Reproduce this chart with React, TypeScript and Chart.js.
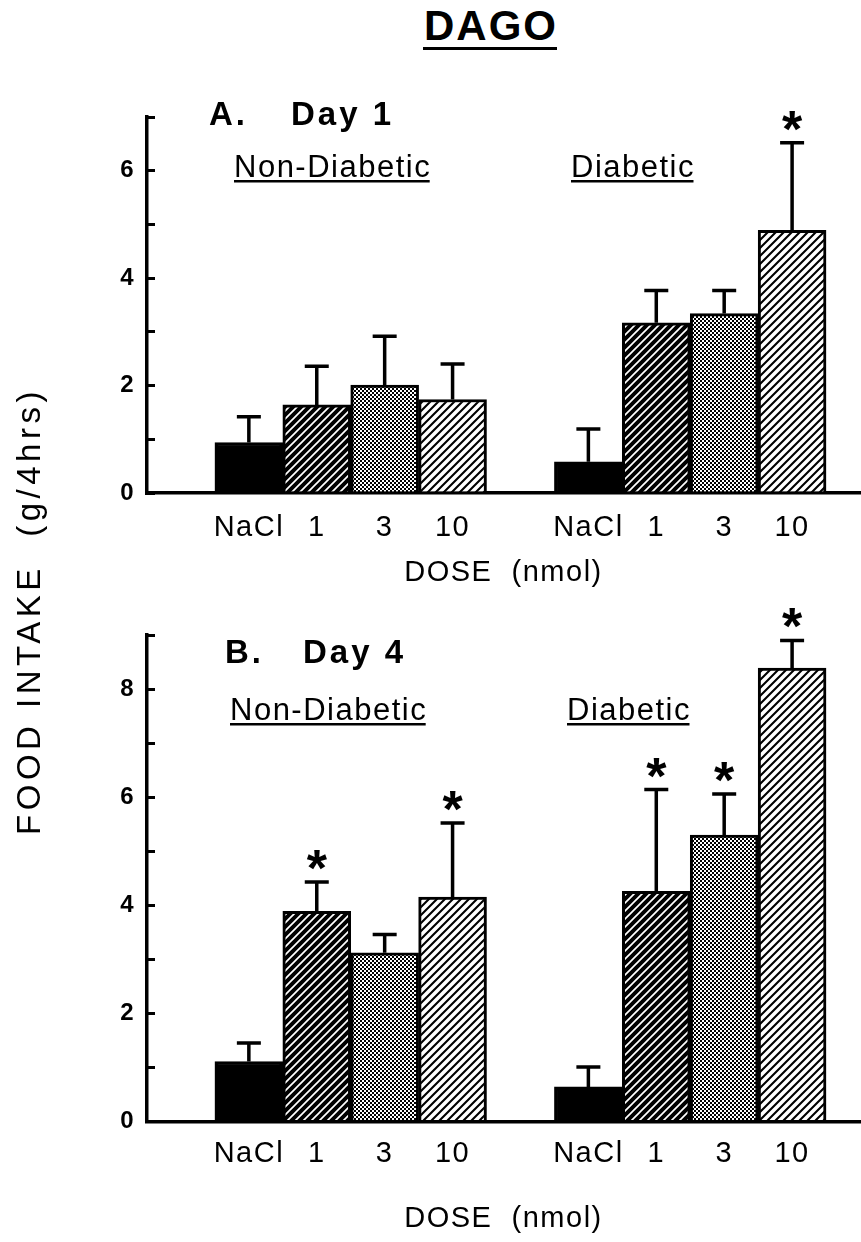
import React, { useEffect, useRef } from 'react';
import { Chart, registerables } from 'chart.js';

Chart.register(...registerables);

// ---------------- data ----------------
const doseLabels = ['NaCl', '1', '3', '10'];
const groupLabels = ['Non-Diabetic', 'Diabetic'];
const xAxisTitle = 'DOSE  (nmol)';
const yAxisTitle = 'FOOD INTAKE  (g/4hrs)';
const figureTitle = 'DAGO';

// Day 1 (panel A): mean and SEM (g/4hrs)
const day1NonDiabeticMean = [0.94, 1.64, 2.01, 1.74];
const day1NonDiabeticSem = [0.48, 0.72, 0.91, 0.66];
const day1DiabeticMean = [0.58, 3.17, 3.34, 4.89];
const day1DiabeticSem = [0.61, 0.6, 0.43, 1.63];
const day1NonDiabeticSig = [false, false, false, false];
const day1DiabeticSig = [false, false, false, true];
const day1YMax = 7;

// Day 4 (panel B)
const day4NonDiabeticMean = [1.11, 3.89, 3.12, 4.15];
const day4NonDiabeticSem = [0.34, 0.54, 0.34, 1.37];
const day4DiabeticMean = [0.64, 4.26, 5.3, 8.39];
const day4DiabeticSem = [0.37, 1.88, 0.76, 0.51];
const day4NonDiabeticSig = [false, true, false, true];
const day4DiabeticSig = [false, true, true, true];
const day4YMax = 9;

// ---------------- styling ----------------
const FAMILY = '"Liberation Sans", Arial, Helvetica, sans-serif';

function makeHatch(bg: string, fg: string, lw: number) {
  const c = document.createElement('canvas');
  c.width = 8;
  c.height = 8;
  const g = c.getContext('2d')!;
  g.fillStyle = bg;
  g.fillRect(0, 0, 8, 8);
  g.strokeStyle = fg;
  g.lineWidth = lw;
  g.beginPath();
  g.moveTo(-2, 10);
  g.lineTo(10, -2);
  g.moveTo(-2, 2);
  g.lineTo(2, -2);
  g.moveTo(6, 10);
  g.lineTo(10, 6);
  g.stroke();
  return g.createPattern(c, 'repeat')!;
}

function makeChecker() {
  const c = document.createElement('canvas');
  c.width = 4;
  c.height = 4;
  const g = c.getContext('2d')!;
  g.fillStyle = '#fff';
  g.fillRect(0, 0, 4, 4);
  g.fillStyle = '#000';
  g.fillRect(0, 0, 2, 2);
  g.fillRect(2, 2, 2, 2);
  return g.createPattern(c, 'repeat')!;
}

type PanelSpec = {
  letter: string;
  day: string;
  ndMean: number[];
  ndSem: number[];
  dMean: number[];
  dSem: number[];
  ndSig: boolean[];
  dSig: boolean[];
  yMax: number;
  canvasTop: number;
  canvasHeight: number;
  plotTop: number;
  plotBottom: number;
  tickPad: number;
  titlePad: number;
  headBase: number;
  letterX: number;
  dayX: number;
  groupBase: number;
  groupX: number[];
};

const panelA: PanelSpec = {
  letter: 'A.',
  day: 'Day 1',
  ndMean: day1NonDiabeticMean,
  ndSem: day1NonDiabeticSem,
  dMean: day1DiabeticMean,
  dSem: day1DiabeticSem,
  ndSig: day1NonDiabeticSig,
  dSig: day1DiabeticSig,
  yMax: day1YMax,
  canvasTop: 0,
  canvasHeight: 600,
  plotTop: 117,
  plotBottom: 493,
  tickPad: 18,
  titlePad: 10,
  headBase: 125,
  letterX: 209,
  dayX: 291,
  groupBase: 177,
  groupX: [234, 571],
};

const panelB: PanelSpec = {
  letter: 'B.',
  day: 'Day 4',
  ndMean: day4NonDiabeticMean,
  ndSem: day4NonDiabeticSem,
  dMean: day4DiabeticMean,
  dSem: day4DiabeticSem,
  ndSig: day4NonDiabeticSig,
  dSig: day4DiabeticSig,
  yMax: day4YMax,
  canvasTop: 600,
  canvasHeight: 642,
  plotTop: 635,
  plotBottom: 1121.5,
  tickPad: 15,
  titlePad: 6,
  headBase: 663,
  letterX: 225,
  dayX: 303,
  groupBase: 720,
  groupX: [230, 567],
};

function Panel({ spec }: { spec: PanelSpec }) {
  const ref = useRef<HTMLCanvasElement>(null);

  useEffect(() => {
    const canvas = ref.current;
    if (!canvas) return;
    const fills = [
      '#000000',
      makeHatch('#000', '#fff', 1.7),
      makeChecker(),
      makeHatch('#fff', '#000', 2.1),
    ];
    const means = [...spec.ndMean, ...spec.dMean];
    const sems = [...spec.ndSem, ...spec.dSem];
    const sig = [...spec.ndSig, ...spec.dSig];
    // one empty slot before each group, doses side by side
    const xs: number[] = [];
    groupLabels.forEach((_, g) => doseLabels.forEach((__, d) => xs.push(1.5 + g * 5 + d)));
    const points = means.map((m, i) => ({ x: xs[i], y: m }));
    const bg = means.map((_, i) => fills[i % 4]);
    const off = spec.canvasTop;

    const annotate = {
      id: 'annotate',
      beforeDraw(chart: any) {
        chart.ctx.letterSpacing = '1.5px';
      },
      afterDatasetsDraw(chart: any) {
        const ctx = chart.ctx as CanvasRenderingContext2D;
        const meta = chart.getDatasetMeta(0);
        const ys = chart.scales.y;
        ctx.save();
        ctx.strokeStyle = '#000';
        ctx.fillStyle = '#000';
        ctx.lineWidth = 3.5;
        meta.data.forEach((el: any, i: number) => {
          const top = ys.getPixelForValue(means[i] + sems[i]);
          ctx.beginPath();
          ctx.moveTo(el.x, el.y);
          ctx.lineTo(el.x, top);
          ctx.moveTo(el.x - 12, top);
          ctx.lineTo(el.x + 12, top);
          ctx.stroke();
          if (sig[i]) {
            ctx.font = `bold 52px ${FAMILY}`;
            ctx.letterSpacing = '0px';
            ctx.textAlign = 'center';
            ctx.textBaseline = 'alphabetic';
            const m = ctx.measureText('*');
            const cy = top - 22;
            ctx.fillText('*', el.x, cy + (m.actualBoundingBoxAscent - m.actualBoundingBoxDescent) / 2);
          }
        });
        ctx.restore();
      },
      afterDraw(chart: any) {
        const ctx = chart.ctx as CanvasRenderingContext2D;
        ctx.save();
        ctx.fillStyle = '#000';
        ctx.textAlign = 'left';
        ctx.textBaseline = 'alphabetic';
        ctx.font = `bold 33px ${FAMILY}`;
        ctx.letterSpacing = '3px';
        ctx.fillText(spec.letter, spec.letterX, spec.headBase - off);
        ctx.fillText(spec.day, spec.dayX, spec.headBase - off);
        ctx.font = `31px ${FAMILY}`;
        ctx.letterSpacing = '1.5px';
        groupLabels.forEach((t, g) => {
          ctx.fillText(t, spec.groupX[g], spec.groupBase - off);
          const w = ctx.measureText(t).width - 1.5;
          ctx.fillRect(spec.groupX[g], spec.groupBase - off + 3, w, 2.5);
        });
        ctx.restore();
      },
    };

    const chart = new Chart(canvas, {
      type: 'bar',
      data: {
        datasets: [
          {
            data: points as any,
            backgroundColor: bg as any,
            borderColor: '#000',
            borderWidth: 3,
            barPercentage: 1,
            categoryPercentage: 1,
            borderSkipped: 'start',
          },
        ],
      },
      options: {
        responsive: false,
        animation: false,
        events: [],
        layout: { padding: { top: spec.plotTop - off, right: 1, left: 0, bottom: 0 } },
        plugins: {
          legend: { display: false },
          tooltip: { enabled: false },
          title: { display: false },
        },
        scales: {
          x: {
            type: 'linear',
            min: 0,
            max: 10.5,
            offset: false,
            grid: { display: false, drawTicks: false, offset: false },
            border: { display: true, color: '#000', width: 3.5 },
            afterBuildTicks: (s: any) => {
              s.ticks = xs.map((v) => ({ value: v }));
            },
            ticks: {
              autoSkip: false,
              maxRotation: 0,
              padding: spec.tickPad,
              color: '#000',
              font: { family: FAMILY, size: 29 },
              callback: (_v: any, i: number) => doseLabels[i % doseLabels.length],
            },
            title: {
              display: true,
              text: xAxisTitle,
              color: '#000',
              font: { family: FAMILY, size: 29 },
              padding: { top: 0, bottom: spec.titlePad },
            },
            afterFit: (s: any) => {
              s.height = spec.canvasHeight - (spec.plotBottom - off);
            },
          },
          y: {
            min: 0,
            max: spec.yMax,
            grid: {
              display: true,
              drawOnChartArea: false,
              drawTicks: true,
              tickLength: -8,
              color: '#000',
              lineWidth: 3,
            },
            border: { display: true, color: '#000', width: 3.5 },
            ticks: {
              stepSize: 1,
              autoSkip: false,
              padding: 20,
              color: '#000',
              font: { family: FAMILY, size: 24, weight: 'bold' },
              callback: (v: any) => (Number(v) % 2 === 0 ? String(v) : ''),
            },
            afterFit: (s: any) => {
              s.width = 147;
            },
          },
        },
      } as any,
      plugins: [annotate],
    });
    return () => chart.destroy();
  }, [spec]);

  return (
    <canvas
      ref={ref}
      width={861}
      height={spec.canvasHeight}
      style={{ position: 'absolute', left: 0, top: spec.canvasTop, width: 861, height: spec.canvasHeight }}
    />
  );
}

export default function App() {
  return (
    <div
      style={{
        position: 'absolute',
        left: 0,
        top: 0,
        width: 861,
        height: 1242,
        overflow: 'hidden',
        background: '#fff',
      }}
    >
      <div
        style={{
          position: 'absolute',
          left: 0,
          top: 4.5,
          width: 982,
          textAlign: 'center',
          font: `bold 42px ${FAMILY}`,
          lineHeight: '42px',
          letterSpacing: '2px',
          color: '#000',
        }}
      >
        {figureTitle}
      </div>
      <div style={{ position: 'absolute', left: 423, top: 47, width: 134, height: 3, background: '#000' }} />
      <Panel spec={panelA} />
      <Panel spec={panelB} />
      <div
        style={{
          position: 'absolute',
          left: 30 - 300,
          top: 611 - 20,
          width: 600,
          height: 40,
          lineHeight: '40px',
          textAlign: 'center',
          transform: 'rotate(-90deg)',
          font: `33px ${FAMILY}`,
          letterSpacing: '4.5px',
          whiteSpace: 'pre',
          color: '#000',
        }}
      >
        {yAxisTitle}
      </div>
    </div>
  );
}
